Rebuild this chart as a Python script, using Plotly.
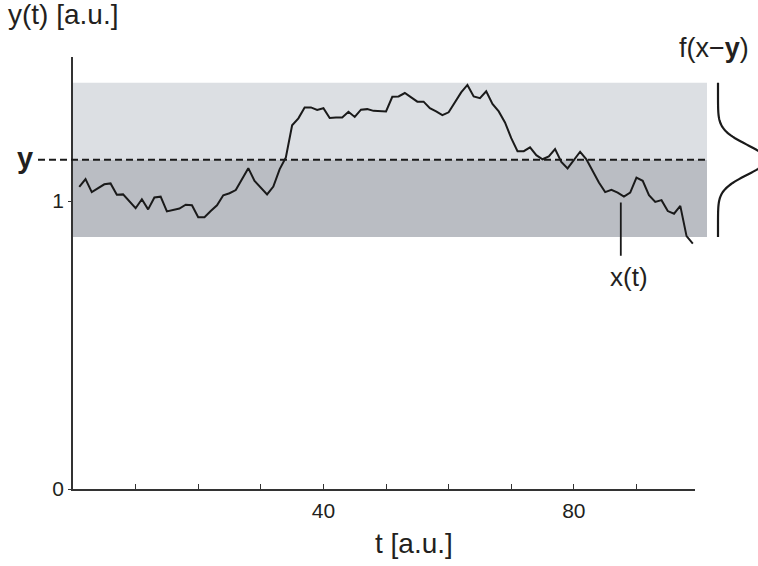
import numpy as np
import plotly.graph_objects as go

# ---- data ----
t = list(range(1, 100))
x_t = [
    1.049, 1.076, 1.031, 1.044, 1.058, 1.061, 1.022, 1.023, 1.000, 0.975,
    1.006, 0.971, 1.012, 1.015, 0.964, 0.969, 0.974, 0.987, 0.985, 0.944,
    0.944, 0.965, 0.985, 1.020, 1.027, 1.038, 1.076, 1.114, 1.070, 1.047,
    1.023, 1.050, 1.110, 1.151, 1.263, 1.287, 1.325, 1.325, 1.316, 1.322,
    1.288, 1.290, 1.290, 1.310, 1.292, 1.317, 1.319, 1.313, 1.312, 1.311,
    1.362, 1.363, 1.375, 1.360, 1.345, 1.345, 1.322, 1.311, 1.298, 1.308,
    1.342, 1.377, 1.403, 1.363, 1.357, 1.381, 1.337, 1.311, 1.273, 1.218,
    1.173, 1.173, 1.186, 1.159, 1.145, 1.155, 1.180, 1.136, 1.113, 1.142,
    1.171, 1.145, 1.104, 1.064, 1.031, 1.039, 1.029, 1.015, 1.029, 1.081,
    1.070, 1.020, 0.997, 1.003, 0.965, 0.956, 0.983, 0.878, 0.852,
]
y_mean = 1.143
band_half = 0.268
f_sigma = 0.0522
x_ticks = [10, 20, 30, 40, 50, 60, 70, 80, 90]
x_ticktext = ["", "", "", "40", "", "", "", "80", ""]
y_ticks = [0, 1]
y_ticktext = ["0", "1"]
x_label_t = 87.5

FONT = "Liberation Sans, Arial, Helvetica, sans-serif"
TXT = "#231f20"
LINE = "#1a1a1a"

W, H = 758, 566
ML, MR, MT, MB = 73, 63, 57, 77
PW, PH = W - ML - MR, H - MT - MB


def px(xp):
    return (xp - ML) / PW


def py(yp):
    return (H - MB - yp) / PH


fig = go.Figure()
fig.add_trace(go.Scatter(x=t, y=x_t, mode="lines",
                         line=dict(color=LINE, width=2), hoverinfo="skip",
                         showlegend=False, cliponaxis=False))

band_x1 = px(707)
fig.add_shape(type="rect", xref="paper", yref="y", x0=0, x1=band_x1,
              y0=y_mean, y1=y_mean + band_half, fillcolor="#dcdfe3",
              line_width=0, layer="below")
fig.add_shape(type="rect", xref="paper", yref="y", x0=0, x1=band_x1,
              y0=y_mean - band_half, y1=y_mean, fillcolor="#babdc3",
              line_width=0, layer="below")
fig.add_shape(type="line", xref="paper", yref="y", x0=px(38), x1=band_x1,
              y0=y_mean, y1=y_mean, line=dict(color=LINE, width=2, dash="7px,4px"))

# gaussian f(x-y) on the right (paper x, data y)
ys = np.linspace(y_mean - band_half, y_mean + band_half, 121)
base = px(718)
amp = 48 / PW
xs = base + amp * np.exp(-((ys - y_mean) ** 2) / (2 * f_sigma ** 2))
path = "M " + " L ".join(f"{a:.5f},{b:.5f}" for a, b in zip(xs, ys))
fig.add_shape(type="path", xref="paper", yref="y", path=path,
              line=dict(color=LINE, width=2.2))

# x(t) pointer
fig.add_annotation(x=x_label_t, y=0.995, ax=x_label_t, ay=0.805, xref="x", yref="y",
                   axref="x", ayref="y", showarrow=True, arrowhead=0,
                   arrowwidth=1.8, arrowcolor=LINE, text="")
fig.add_annotation(x=px(629), y=py(277), xref="paper", yref="paper", text="x(t)",
                   xanchor="center", yanchor="middle",
                   showarrow=False, font=dict(size=26, color=TXT, family=FONT))

# labels
fig.add_annotation(x=px(6), y=py(15), xref="paper", yref="paper",
                   xanchor="left", yanchor="middle", text="y(t) [a.u.]",
                   showarrow=False, font=dict(size=28, color=TXT, family=FONT))
fig.add_annotation(x=px(414), y=py(543), xref="paper", yref="paper",
                   xanchor="center", yanchor="middle", text="t [a.u.]",
                   showarrow=False, font=dict(size=28, color=TXT, family=FONT))
fig.add_annotation(x=px(714), y=py(48), xref="paper", yref="paper",
                   xanchor="center", yanchor="middle", text="f(x\u2212<b>y</b>)",
                   showarrow=False, font=dict(size=27, color=TXT, family=FONT))
fig.add_annotation(x=px(25), y=py(158), xref="paper", yref="paper",
                   xanchor="center", yanchor="middle", text="<b>y</b>",
                   showarrow=False, font=dict(size=29, color=TXT, family=FONT))

fig.update_layout(
    width=W, height=H,
    margin=dict(l=ML, r=MR, t=MT, b=MB),
    paper_bgcolor="white", plot_bgcolor="white",
    font=dict(family=FONT, color=TXT, size=20),
    xaxis=dict(range=[0, 99.35], tickvals=x_ticks, ticktext=x_ticktext,
               ticks="inside", ticklen=5, tickwidth=1, tickcolor="#333",
               showline=True, linecolor="#333", linewidth=1.5,
               showgrid=False, zeroline=False, tickfont=dict(size=21),
               ticklabelstandoff=2),
    yaxis=dict(range=[0, 1.5], tickvals=y_ticks, ticktext=y_ticktext,
               ticks="outside", ticklen=3, tickwidth=1, tickcolor="#333",
               showline=True, linecolor="#333", linewidth=1.5,
               showgrid=False, zeroline=False, tickfont=dict(size=21),
               ticklabelstandoff=0),
)

fig.write_html("out.html")
